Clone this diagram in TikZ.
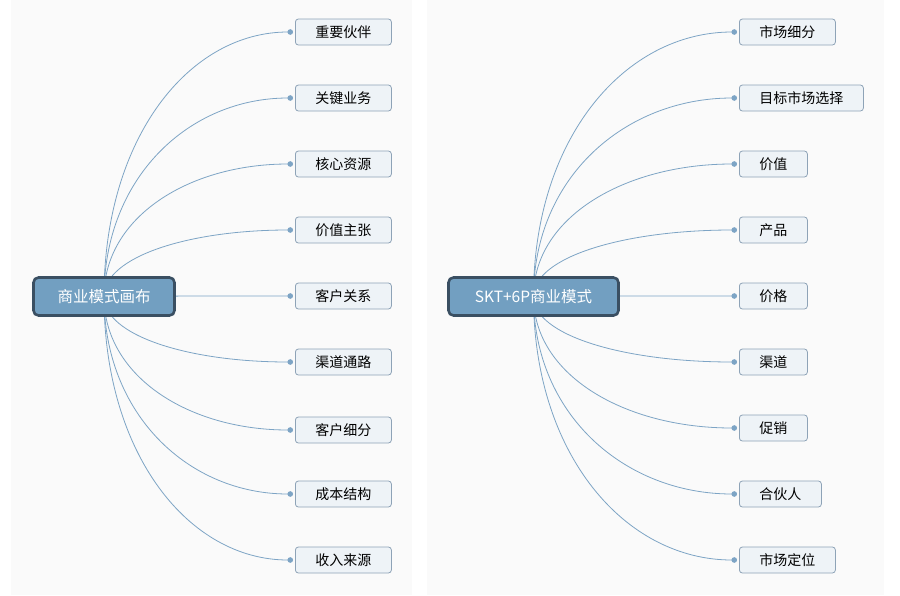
\documentclass[tikz,border=0pt]{standalone}
\usepackage{fontspec}
\usepackage{xcolor}
\usepackage{tikz}
\usetikzlibrary{calc}
\usetikzlibrary{arrows.meta}
\newfontfamily\cjk{Noto Sans CJK SC}
\definecolor{panelbg}{HTML}{FAFAFA}
\definecolor{rootfill}{HTML}{729FC1}
\definecolor{rootline}{HTML}{3A4F62}
\definecolor{leaffill}{HTML}{EEF3F7}
\definecolor{leafline}{HTML}{8EA3B7}
\definecolor{linkcol}{HTML}{7DA4C5}
\pgfdeclarelayer{bg}
\pgfdeclarelayer{edges}
\pgfsetlayers{bg,edges,main}
\tikzset{
	rootbox/.style={draw=rootline,fill=rootfill,line width=2.6pt,rounded corners=5pt,
		text=white,minimum height=38pt,inner xsep=0pt,font=\cjk\fontsize{15.5}{18}\selectfont},
	leafbox/.style={draw=leafline,fill=leaffill,line width=0.8pt,rounded corners=3pt,
		anchor=west,minimum height=26pt,inner xsep=20pt,inner ysep=0pt,
		font=\cjk\fontsize{14}{16}\selectfont},
	link/.style={draw=linkcol,line width=0.8pt,-{Circle[length=5.5pt]}}
}

\begin{document}
\begin{tikzpicture}[x=1pt,y=-1pt]
	\useasboundingbox (0,0) rectangle (900,595);
	\begin{pgfonlayer}{bg}
		\fill[panelbg] (11,0) rectangle (412,595);
		\fill[panelbg] (427,0) rectangle (884,595);
	\end{pgfonlayer}
	% left: business model canvas
	\node[rootbox,minimum width=141pt] (lroot) at (104,296.5) {商业模式画布};
	\foreach \y/\t [count=\i] in {32/重要伙伴,98/关键业务,164/核心资源,230/价值主张,296/客户关系,
		362/渠道通路,430/客户细分,494/成本结构,560/收入来源}
		\node[leafbox] (l\i) at (295,\y) {\t};
	% right: SKT+6P
	\node[rootbox,minimum width=170pt] (rroot) at (533.5,296.5) {SKT+6P商业模式};
	\foreach \y/\t [count=\i] in {32/市场细分,98/目标市场选择,164/价值,230/产品,296/价格,
		362/渠道,428/促销,494/合伙人,560/市场定位}
		\node[leafbox] (r\i) at (739,\y) {\t};
	% curved links
	\begin{pgfonlayer}{edges}
		\foreach \s/\c in {lroot/l,rroot/r}
			\foreach \i in {1,...,9}{
				\coordinate (e\i) at ($(\c\i.west)+(-2,0)$);
				\draw[link] (\s.center) .. controls ($(\s.center)!0.6!(\s.center|-e\i)$)
					and ($(\s.center|-e\i)!0.45!(e\i)$) .. (e\i);
			}
	\end{pgfonlayer}
\end{tikzpicture}
\end{document}
